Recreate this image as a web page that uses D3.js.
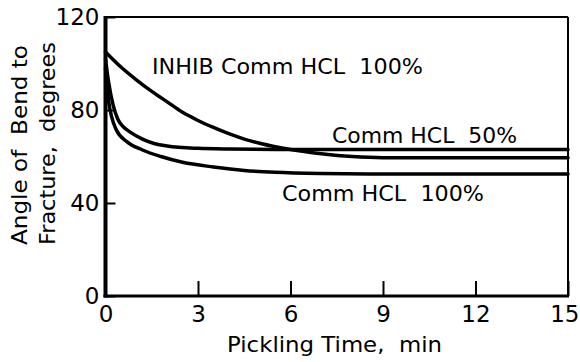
<!DOCTYPE html>
<html>
<head>
<meta charset="utf-8">
<script src="https://cdn.jsdelivr.net/npm/d3@7"></script>
<style>
  html, body { margin: 0; padding: 0; background: #fff; }
  svg { display: block; }
  text { font-family: "DejaVu Sans", "Liberation Sans", sans-serif; fill: #000; }
</style>
</head>
<body>
<svg id="chart" width="580" height="362"></svg>
<script>
// Data
const inhibTime  = [0, 0.5, 1, 1.5, 2, 2.5, 3, 3.5, 4, 4.5, 5, 6, 7, 8, 9, 10, 12, 15];
const inhibAngle = [105, 98.5, 93, 88, 83.5, 79, 75.5, 72.5, 69.8, 67.5, 65.7, 63, 61.2, 60, 59.5, 59.5, 59.5, 59.5];

const hcl50Time  = [0, 0.1, 0.25, 0.4, 0.6, 0.8, 1.2, 1.6, 2, 3, 4, 6, 9, 12, 15];
const hcl50Angle = [102, 92, 82, 76, 72.5, 70.5, 67.5, 65.5, 64.5, 63.5, 63.2, 63, 63, 63, 63];

const hcl100Time  = [0, 0.1, 0.2, 0.35, 0.7, 1.2, 1.8, 2.5, 3.5, 4.5, 5.5, 7, 9, 12, 15];
const hcl100Angle = [98, 84, 77, 71.5, 66.3, 62.8, 60, 57.5, 55.5, 54, 53.2, 52.7, 52.5, 52.5, 52.5];

const xTicks = [0, 3, 6, 9, 12, 15];
const yTicks = [0, 40, 80, 120];

const seriesLabels = ["INHIB Comm HCL  100%", "Comm HCL  50%", "Comm HCL  100%"];
const xTitle = "Pickling Time,  min";
const yTitleLines = ["Angle of  Bend to", "Fracture,  degrees"];

const svg = d3.select("#chart");
const x = d3.scaleLinear().domain([0, 15]).range([105.5, 568]);
const y = d3.scaleLinear().domain([0, 120]).range([296, 17]);

// Axes with inward ticks
const xAxis = svg.append("g").attr("transform", `translate(0,${y(0)})`)
  .call(d3.axisBottom(x).tickValues(xTicks).tickSize(-15).tickPadding(10).tickFormat(d3.format("d")));
xAxis.select(".domain").remove();
xAxis.selectAll(".tick line").attr("stroke", "#000").attr("stroke-width", 2);
xAxis.selectAll(".tick text").attr("font-size", 23).attr("font-family", "DejaVu Sans");
// keep the last label inside the picture, as in the reference
xAxis.selectAll(".tick text").filter(d => d === 15).attr("text-anchor", "end").attr("x", 11);

const yAxis = svg.append("g").attr("transform", `translate(${x(0)},0)`)
  .call(d3.axisLeft(y).tickValues(yTicks).tickSize(-10).tickPadding(6).tickFormat(d3.format("d")));
yAxis.select(".domain").remove();
yAxis.selectAll(".tick line").attr("stroke", "#000").attr("stroke-width", 2);
yAxis.selectAll(".tick text").attr("font-size", 23).attr("font-family", "DejaVu Sans");

// Frame
const x0 = x(0), x1 = x(15), y0 = y(0), y1 = y(120);
svg.append("line").attr("x1", x0).attr("x2", x1).attr("y1", y1).attr("y2", y1).attr("stroke", "#000").attr("stroke-width", 2);
svg.append("line").attr("x1", x1).attr("x2", x1).attr("y1", y1).attr("y2", y0).attr("stroke", "#000").attr("stroke-width", 2);
svg.append("line").attr("x1", x0 - 2).attr("x2", x1 + 1).attr("y1", y0).attr("y2", y0).attr("stroke", "#000").attr("stroke-width", 3);
svg.append("line").attr("x1", x0).attr("x2", x0).attr("y1", y1 - 1).attr("y2", y0 + 1.5).attr("stroke", "#000").attr("stroke-width", 4);

// Curves
const line = d3.line().x(d => x(d[0])).y(d => y(d[1])).curve(d3.curveMonotoneX);
const series = [
  d3.zip(inhibTime, inhibAngle),
  d3.zip(hcl50Time, hcl50Angle),
  d3.zip(hcl100Time, hcl100Angle)
];
svg.append("g").selectAll("path").data(series).join("path")
  .attr("d", line).attr("fill", "none").attr("stroke", "#000")
  .attr("stroke-width", 3.5).attr("stroke-linejoin", "round").attr("stroke-linecap", "round");

// Curve labels
const labelPos = [
  { x: 152, y: 74, w: 271 },
  { x: 332, y: 143, w: 185 },
  { x: 282, y: 201, w: 202 }
];
svg.append("g").selectAll("text").data(seriesLabels).join("text")
  .attr("x", (d, i) => labelPos[i].x).attr("y", (d, i) => labelPos[i].y)
  .attr("font-size", 22)
  .attr("textLength", (d, i) => labelPos[i].w).attr("lengthAdjust", "spacingAndGlyphs")
  .style("white-space", "pre")
  .text(d => d);

// Axis titles
svg.append("text").attr("x", 227).attr("y", 352).attr("font-size", 22)
  .attr("textLength", 215).attr("lengthAdjust", "spacingAndGlyphs")
  .style("white-space", "pre").text(xTitle);

svg.append("g").selectAll("text").data(yTitleLines).join("text")
  .attr("transform", (d, i) => `translate(${i === 0 ? 27 : 55},245) rotate(-90)`)
  .attr("font-size", 22)
  .attr("textLength", (d, i) => i === 0 ? 200 : 203).attr("lengthAdjust", "spacingAndGlyphs")
  .style("white-space", "pre").text(d => d);
</script>
</body>
</html>
